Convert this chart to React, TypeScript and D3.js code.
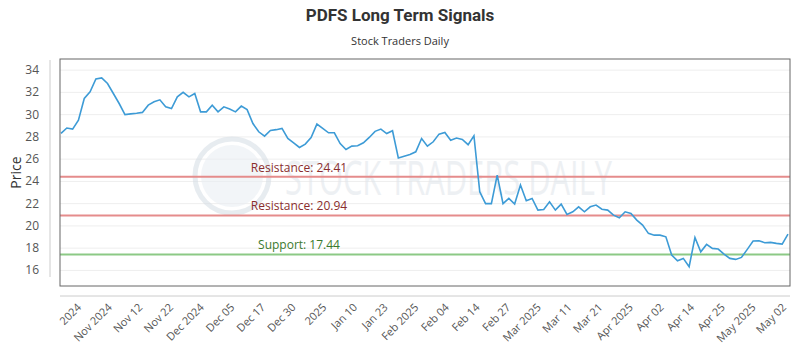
import * as d3 from 'd3';

// daily closes
const prices = [
  28.31, 28.8, 28.7, 29.5, 31.45, 32.05, 33.2, 33.3, 32.8, 31.9,
  31.0, 30.0, 30.07, 30.12, 30.2, 30.85, 31.15, 31.33, 30.7, 30.55,
  31.6, 32.0, 31.6, 31.9, 30.25, 30.25, 30.85, 30.25, 30.7, 30.5,
  30.25, 30.77, 30.45, 29.2, 28.46, 28.07, 28.58, 28.65, 28.76, 27.86,
  27.47, 27.05, 27.35, 27.95, 29.15, 28.76, 28.37, 28.37, 27.4, 26.87,
  27.17, 27.2, 27.47, 27.95, 28.5, 28.7, 28.3, 28.55, 26.1, 26.27,
  26.42, 26.66, 27.86, 27.17, 27.56, 28.25, 28.4, 27.7, 27.9, 27.77,
  27.3, 28.1, 23.07, 22.0, 22.0, 24.57, 22.0, 22.47, 21.96, 23.67,
  22.26, 22.47, 21.42, 21.48, 22.17, 21.42, 21.96, 21.03, 21.27, 21.72,
  21.27, 21.72, 21.87, 21.5, 21.42, 20.97, 20.73, 21.27, 21.12, 20.52,
  20.07, 19.33, 19.17, 19.17, 19.02, 17.38, 16.87, 17.08, 16.33, 18.96,
  17.67, 18.34, 17.98, 17.92, 17.47, 17.08, 16.99, 17.17, 17.89, 18.64,
  18.67, 18.49, 18.52, 18.43, 18.37, 19.27,
];

const tickLabels = [
  '2024', 'Nov 2024', 'Nov 12', 'Nov 22', 'Dec 2024', 'Dec 05', 'Dec 17', 'Dec 30',
  '2025', 'Jan 10', 'Jan 23', 'Feb 2025', 'Feb 04', 'Feb 14', 'Feb 27', 'Mar 2025',
  'Mar 11', 'Mar 21', 'Apr 2025', 'Apr 02', 'Apr 14', 'Apr 25', 'May 2025', 'May 02',
];

const yTicks = [16, 18, 20, 22, 24, 26, 28, 30, 32, 34];

const levelNames = ['Resistance', 'Resistance', 'Support'];
const levelValues = [24.41, 20.94, 17.44];

const WIDTH = 800;
const HEIGHT = 350;
const plot = { left: 60, right: 790, top: 59, bottom: 286 };
const FONT = "'Open Sans', 'Noto Sans', sans-serif";

export default function App() {
  const x = d3
    .scaleLinear()
    .domain([0, prices.length - 1])
    .range([61, 788]);

  const y = d3.scaleLinear().domain([14.6, 35]).range([plot.bottom, plot.top]);

  const xLabel = d3.scalePoint<string>().domain(tickLabels).range([82, 787]);

  const line = d3
    .line<number>()
    .x((_, i) => x(i))
    .y((d) => y(d));

  return (
    <svg
      width={WIDTH}
      height={HEIGHT}
      viewBox={`0 0 ${WIDTH} ${HEIGHT}`}
      style={{ position: 'absolute', left: 0, top: 0, background: '#fff' }}
    >
      <text
        x={400}
        y={21}
        textAnchor="middle"
        fontFamily="'Roboto', sans-serif"
        fontWeight={700}
        fontSize={17}
        fill="#333"
      >
        PDFS Long Term Signals
      </text>
      <text x={400} y={45} textAnchor="middle" fontFamily={FONT} fontSize={11} fill="#333">
        Stock Traders Daily
      </text>

      {/* grid */}
      {yTicks.map((t) => (
        <line
          key={t}
          x1={plot.left}
          x2={plot.right}
          y1={y(t)}
          y2={y(t)}
          stroke="#eeeeee"
          strokeWidth={1}
        />
      ))}

      {/* watermark */}
      <g opacity={0.55}>
        <circle cx={232} cy={176} r={37} fill="none" stroke="#d5dde5" strokeWidth={5} />
        <circle cx={232} cy={176} r={31} fill="#e9eef3" />
        <text
          x={285}
          y={195}
          textLength={327}
          lengthAdjust="spacingAndGlyphs"
          fontFamily={FONT}
          fontSize={48}
          fill="#dfe5eb"
        >
          STOCK TRADERS DAILY
        </text>
      </g>

      {/* y axis */}
      <line x1={50} x2={50} y1={60} y2={277} stroke="#cccccc" />
      {yTicks.map((t) => (
        <text
          key={t}
          x={39}
          y={y(t) + 4}
          textAnchor="end"
          fontFamily={FONT}
          fontSize={12}
          fill="#555"
        >
          {t}
        </text>
      ))}
      <text
        transform={`translate(21,${(plot.top + plot.bottom) / 2}) rotate(-90)`}
        textAnchor="middle"
        fontFamily={FONT}
        fontSize={14}
        fill="#333"
      >
        Price
      </text>

      {/* support / resistance */}
      {levelValues.map((v, i) => {
        const isSupport = levelNames[i] === 'Support';
        return (
          <g key={i}>
            <line
              x1={plot.left}
              x2={plot.right}
              y1={y(v)}
              y2={y(v)}
              stroke={isSupport ? '#8cc985' : '#e58c8c'}
              strokeWidth={2}
            />
            <text
              x={299}
              y={y(v) - 5}
              textAnchor="middle"
              fontFamily={FONT}
              fontSize={12}
              fill={isSupport ? '#3b7a2e' : '#8a2e2e'}
            >
              {`${levelNames[i]}: ${v.toFixed(2)}`}
            </text>
          </g>
        );
      })}

      <path d={line(prices) ?? ''} fill="none" stroke="#3d9bd6" strokeWidth={1.6} />

      {/* plot frame */}
      <rect
        x={plot.left}
        y={plot.top}
        width={plot.right - plot.left}
        height={plot.bottom - plot.top}
        fill="none"
        stroke="#666"
        strokeWidth={1}
      />

      {/* x axis */}
      <line x1={plot.left} x2={plot.right} y1={296} y2={296} stroke="#cccccc" />
      {tickLabels.map((label) => (
        <text
          key={label}
          transform={`translate(${xLabel(label)},${308}) rotate(-45)`}
          textAnchor="end"
          fontFamily={FONT}
          fontSize={11}
          fill="#555"
        >
          {label}
        </text>
      ))}
    </svg>
  );
}
